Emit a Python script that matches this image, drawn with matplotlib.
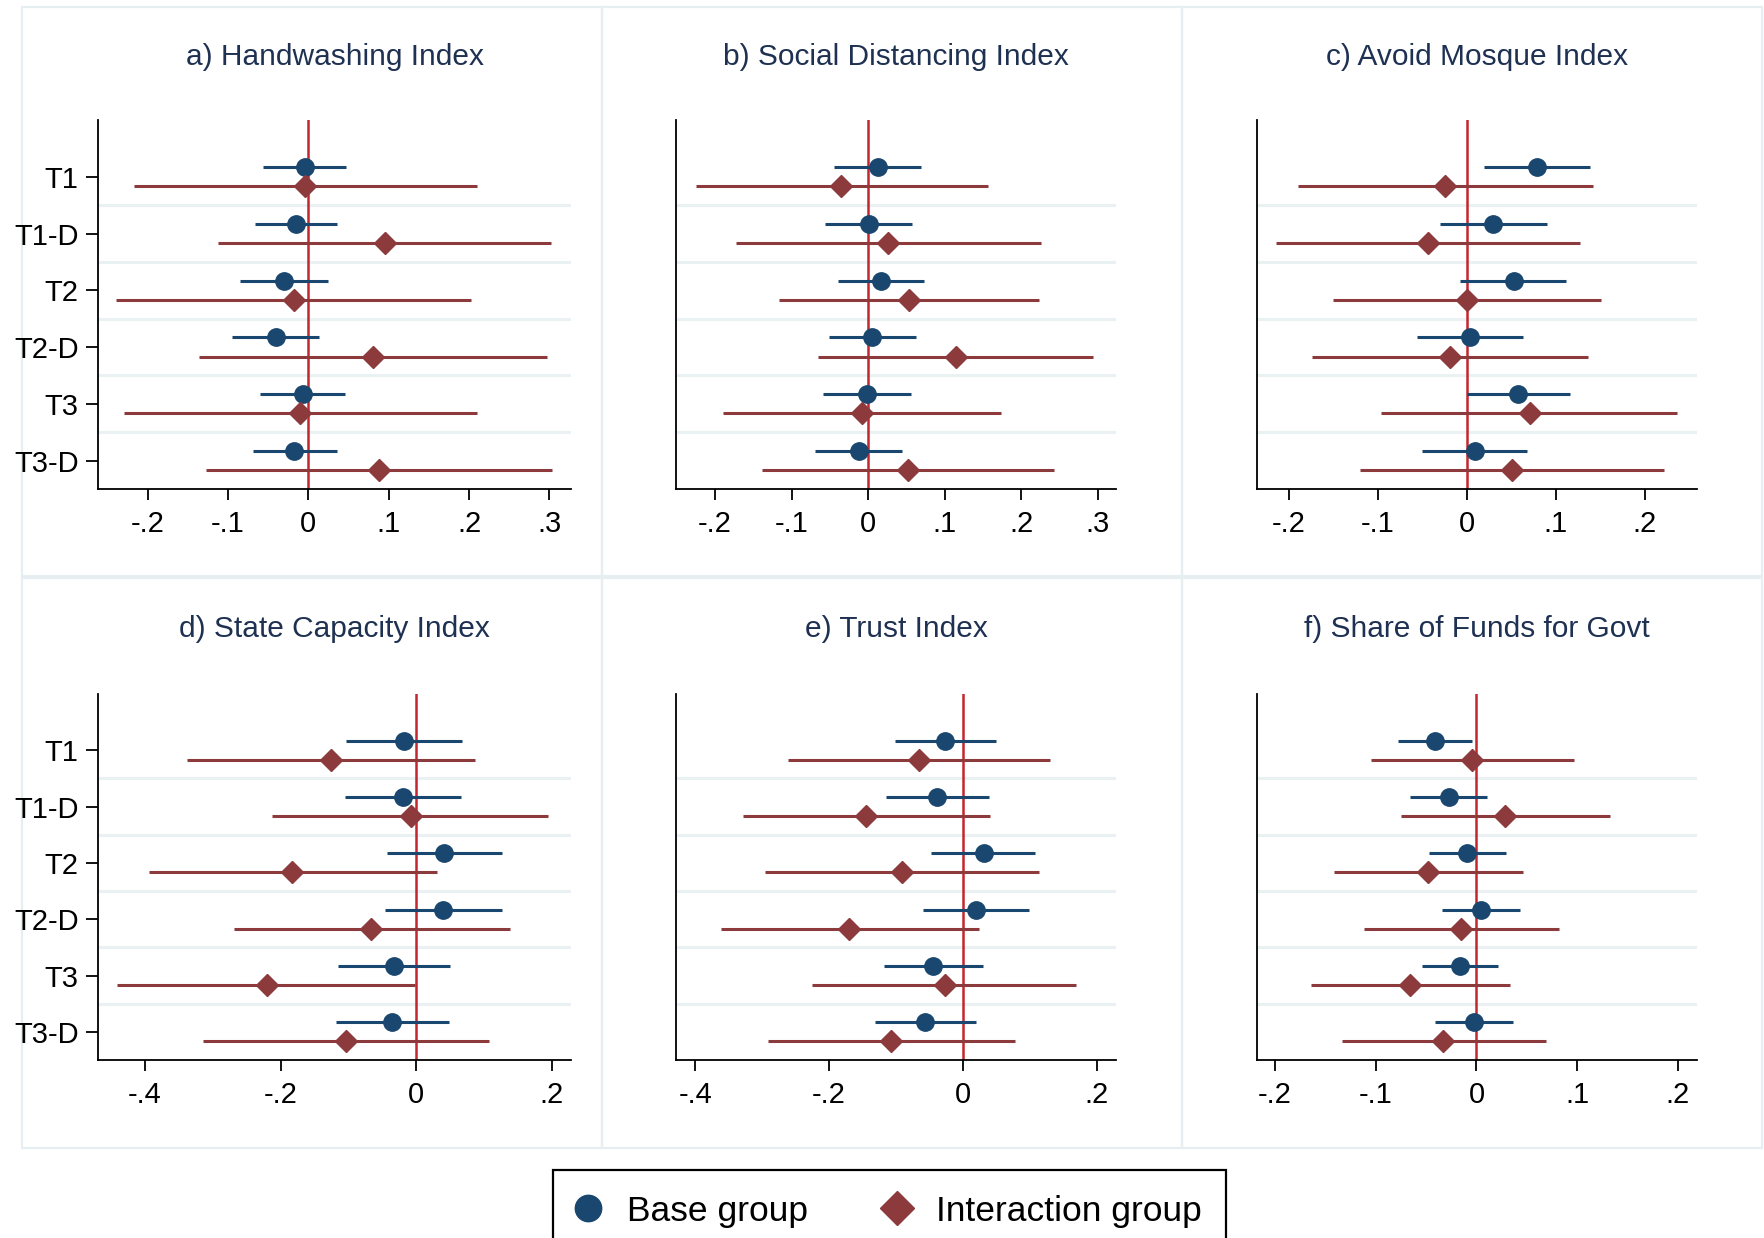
import numpy as np
import matplotlib
matplotlib.use('Agg')
import matplotlib.pyplot as plt
from matplotlib.patches import Rectangle
from matplotlib.lines import Line2D
from matplotlib.ticker import FuncFormatter

plt.rcParams['font.family'] = ['Liberation Sans', 'DejaVu Sans']

rows = ['T1', 'T1-D', 'T2', 'T2-D', 'T3', 'T3-D']

# a) handwashing
hand_b = [-0.004, -0.015, -0.030, -0.040, -0.007, -0.018]
hand_b_lo = [-0.056, -0.066, -0.085, -0.095, -0.060, -0.069]
hand_b_hi = [0.047, 0.036, 0.024, 0.013, 0.046, 0.035]
hand_i = [-0.004, 0.095, -0.018, 0.080, -0.010, 0.088]
hand_i_lo = [-0.217, -0.113, -0.239, -0.136, -0.230, -0.127]
hand_i_hi = [0.210, 0.302, 0.202, 0.297, 0.210, 0.303]

# b) social distancing
soc_b = [0.0125, 0.001, 0.0175, 0.0055, -0.001, -0.0125]
soc_b_lo = [-0.045, -0.0565, -0.039, -0.0505, -0.0585, -0.0695]
soc_b_hi = [0.0695, 0.058, 0.0735, 0.062, 0.0555, 0.044]
soc_i = [-0.035, 0.026, 0.054, 0.1145, -0.008, 0.0525]
soc_i_lo = [-0.2255, -0.173, -0.116, -0.065, -0.190, -0.138]
soc_i_hi = [0.157, 0.226, 0.2235, 0.2935, 0.1735, 0.2425]

# c) avoid mosque
mosq_b = [0.079, 0.030, 0.0526, 0.0034, 0.058, 0.009]
mosq_b_lo = [0.0197, -0.030, -0.0073, -0.056, 0.0, -0.050]
mosq_b_hi = [0.139, 0.090, 0.112, 0.063, 0.116, 0.0675]
mosq_i = [-0.0244, -0.044, 0.0004, -0.019, 0.071, 0.051]
mosq_i_lo = [-0.190, -0.215, -0.150, -0.174, -0.0966, -0.120]
mosq_i_hi = [0.1415, 0.127, 0.151, 0.136, 0.237, 0.222]

# d) state capacity
state_b = [-0.0175, -0.0197, 0.041, 0.0394, -0.0327, -0.0355]
state_b_lo = [-0.103, -0.105, -0.0434, -0.0468, -0.1155, -0.119]
state_b_hi = [0.067, 0.0665, 0.127, 0.1268, 0.0496, 0.0485]
state_i = [-0.1256, -0.0085, -0.1825, -0.066, -0.220, -0.104]
state_i_lo = [-0.3375, -0.212, -0.394, -0.268, -0.441, -0.314]
state_i_hi = [0.086, 0.194, 0.030, 0.1375, -0.0017, 0.1065]

# e) trust
trust_b = [-0.026, -0.038, 0.031, 0.0189, -0.0446, -0.056]
trust_b_lo = [-0.102, -0.115, -0.047, -0.060, -0.118, -0.131]
trust_b_hi = [0.049, 0.039, 0.1086, 0.0989, 0.0297, 0.020]
trust_i = [-0.066, -0.1446, -0.091, -0.170, -0.0274, -0.107]
trust_i_lo = [-0.262, -0.3286, -0.2954, -0.362, -0.225, -0.291]
trust_i_hi = [0.131, 0.040, 0.1137, 0.024, 0.169, 0.078]

# f) share of funds
funds_b = [-0.041, -0.027, -0.009, 0.004, -0.016, -0.0026]
funds_b_lo = [-0.078, -0.066, -0.0476, -0.0347, -0.054, -0.0415]
funds_b_hi = [-0.004, 0.010, 0.029, 0.0434, 0.0215, 0.036]
funds_i = [-0.004, 0.0287, -0.048, -0.015, -0.0657, -0.033]
funds_i_lo = [-0.105, -0.0748, -0.142, -0.112, -0.164, -0.134]
funds_i_hi = [0.097, 0.133, 0.0457, 0.082, 0.0332, 0.0687]

titles = ['a) Handwashing Index', 'b) Social Distancing Index', 'c) Avoid Mosque Index',
          'd) State Capacity Index', 'e) Trust Index', 'f) Share of Funds for Govt']
xticks = [[-0.2, -0.1, 0, 0.1, 0.2, 0.3], [-0.2, -0.1, 0, 0.1, 0.2, 0.3], [-0.2, -0.1, 0, 0.1, 0.2],
          [-0.4, -0.2, 0, 0.2], [-0.4, -0.2, 0, 0.2], [-0.2, -0.1, 0, 0.1, 0.2]]
xlims = [(-0.262, 0.327), (-0.251, 0.324), (-0.236, 0.259),
         (-0.469, 0.228), (-0.429, 0.229), (-0.218, 0.219)]

panels = [
    (hand_b, hand_b_lo, hand_b_hi, hand_i, hand_i_lo, hand_i_hi),
    (soc_b, soc_b_lo, soc_b_hi, soc_i, soc_i_lo, soc_i_hi),
    (mosq_b, mosq_b_lo, mosq_b_hi, mosq_i, mosq_i_lo, mosq_i_hi),
    (state_b, state_b_lo, state_b_hi, state_i, state_i_lo, state_i_hi),
    (trust_b, trust_b_lo, trust_b_hi, trust_i, trust_i_lo, trust_i_hi),
    (funds_b, funds_b_lo, funds_b_hi, funds_i, funds_i_lo, funds_i_hi),
]

navy = '#1a476f'
maroon = '#8c3a3c'
zero_red = '#c3262f'
sep_col = '#e9f1f3'
frame_col = '#e6eef1'
title_col = '#1f3152'

W, H = 1765, 1238
fig = plt.figure(figsize=(W / 100, H / 100), dpi=100)

# axes boxes in pixels
col_x = [(98, 571), (676, 1116), (1257, 1697)]
row_y = [(120, 489), (694, 1060)]
# panel frames
frame_x = [(22, 602), (602, 1182), (1182, 1762)]
frame_y = [(7, 576), (578, 1148)]
title_y = [57, 629]

for r in range(2):
    for c in range(3):
        fx0, fx1 = frame_x[c]
        fy0, fy1 = frame_y[r]
        fig.patches.append(Rectangle((fx0 / W, 1 - fy1 / H), (fx1 - fx0) / W, (fy1 - fy0) / H,
                                     transform=fig.transFigure, fill=False, ec=frame_col,
                                     lw=1.6, zorder=-10))


def fmt(v, _):
    if abs(v) < 1e-9:
        return '0'
    return f'{v:.1f}'.replace('0.', '.')


y = np.arange(1, 7)
off = 0.17

for k, (bb, blo, bhi, ii, ilo, ihi) in enumerate(panels):
    r, c = divmod(k, 3)
    x0, x1 = col_x[c]
    t0, t1 = row_y[r]
    ax = fig.add_axes([x0 / W, 1 - t1 / H, (x1 - x0) / W, (t1 - t0) / H])
    ax.patch.set_alpha(0)

    for s in y[:-1] + 0.5:
        ax.axhline(s, color=sep_col, lw=2.2, zorder=0)
    ax.axvline(0, color=zero_red, lw=1.8, zorder=1)

    ax.hlines(y - off, blo, bhi, color=navy, lw=2.2, zorder=2)
    ax.plot(bb, y - off, 'o', color=navy, ms=12.5, zorder=3)
    ax.hlines(y + off, ilo, ihi, color=maroon, lw=2.2, zorder=2)
    ax.plot(ii, y + off, 'D', color=maroon, ms=11, zorder=3)

    ax.set_xlim(*xlims[k])
    ax.set_ylim(6.5, 0)
    ax.set_xticks(xticks[k])
    ax.xaxis.set_major_formatter(FuncFormatter(fmt))
    ax.tick_params(axis='x', length=8, width=1.3, labelsize=21, pad=7)
    if c == 0:
        ax.set_yticks(y)
        ax.set_yticklabels(rows)
        ax.tick_params(axis='y', length=9, width=1.3, labelsize=21, pad=5)
    else:
        ax.set_yticks([])
    for sp in ['top', 'right']:
        ax.spines[sp].set_visible(False)
    for sp in ['left', 'bottom']:
        ax.spines[sp].set_linewidth(1.3)

    fig.text((x0 + x1) / 2 / W, 1 - title_y[r] / H, titles[k], ha='center', va='center',
             fontsize=21.5, color=title_col)

h_base = Line2D([], [], marker='o', ls='none', color=navy, ms=19)
h_inter = Line2D([], [], marker='D', ls='none', color=maroon, ms=17)
leg = fig.legend([h_base, h_inter], ['Base group', 'Interaction group'], ncol=2,
                 loc='upper left', bbox_to_anchor=(553 / W, 1 - 1170 / H),
                 fontsize=25.5, frameon=True, fancybox=False, edgecolor='black',
                 framealpha=1, handlelength=0.6, handletextpad=0.8,
                 columnspacing=2.2, borderpad=0.7, borderaxespad=0)
leg.get_frame().set_linewidth(1.6)

fig.savefig('out.png', dpi=100)
